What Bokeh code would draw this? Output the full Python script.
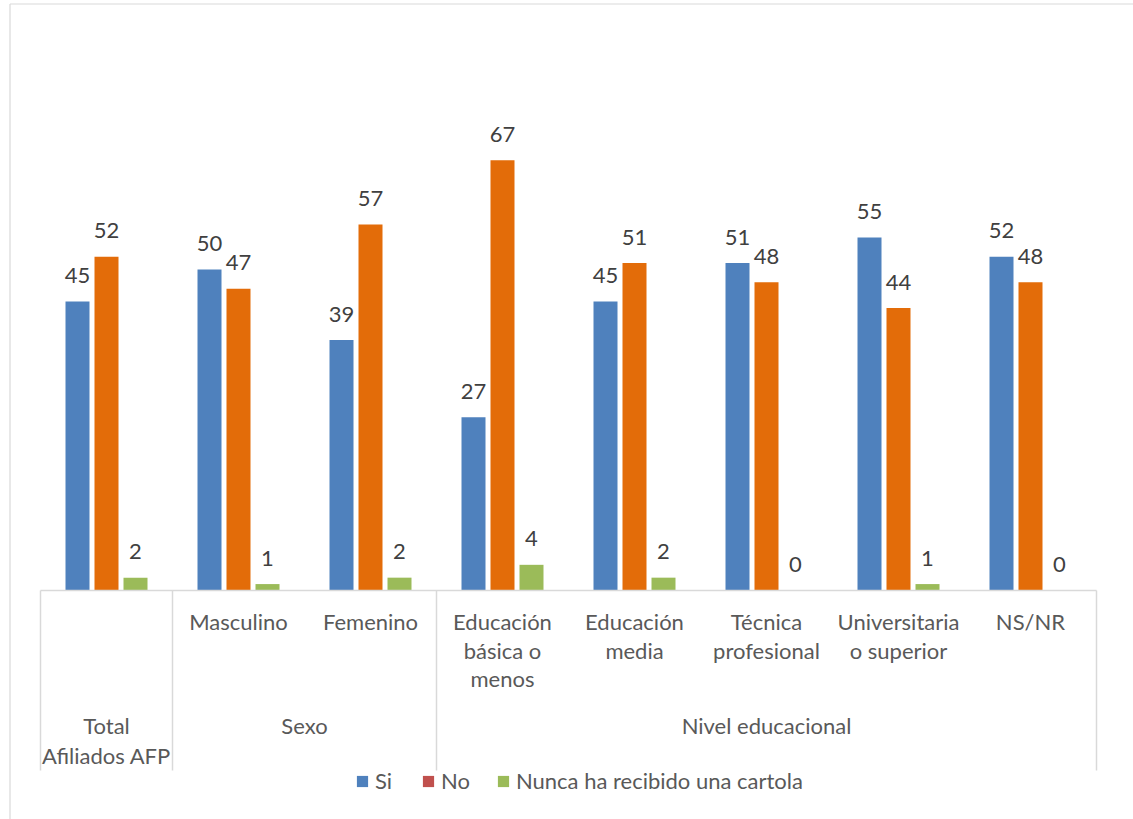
from bokeh.plotting import figure
from bokeh.models import Range1d, ColumnDataSource, Legend, LegendItem
from bokeh.core.properties import value
from bokeh.embed import file_html
from bokeh.resources import INLINE

# ---- data ----
sub_labels = ["", "Masculino", "Femenino", "Educación\nbásica o\nmenos", "Educación\nmedia",
              "Técnica\nprofesional", "Universitaria\no superior", "NS/NR"]
groups = ["Total\nAfiliados AFP", "Sexo", "Nivel educacional"]
group_spans = [(0, 1), (1, 3), (3, 8)]
series_names = ["Si", "No", "Nunca ha recibido una cartola"]
si = [45, 50, 39, 27, 45, 51, 55, 52]
no = [52, 47, 57, 67, 51, 48, 44, 48]
nunca = [2, 1, 2, 4, 2, 0, 1, 0]

# ---- layout helpers (page pixels -> data); figure sits at page (0, 0) ----
W, H = 1133, 819
X0, CAT = 40.0, 132.0          # page x of category 0 start, px per category
BASE, SC = 590.0, 6.42         # page y of baseline, px per unit
def px2x(px): return (px - X0) / CAT
def px2y(py): return (BASE - py) / SC

p = figure(width=W, height=H, output_backend="svg", toolbar_location=None,
           x_range=Range1d(px2x(0), px2x(W)), y_range=Range1d(px2y(H), px2y(0)),
           x_axis_location=None, y_axis_location=None, min_border=0)
p.xgrid.visible = False
p.ygrid.visible = False
p.outline_line_color = None
p.background_fill_color = "white"
p.border_fill_color = "white"

# chart area border (left and top edges visible in the reference)
p.segment(x0=[px2x(9.5), px2x(9.5)], y0=[px2y(3.5), px2y(3.5)],
          x1=[px2x(9.5), px2x(W)], y1=[px2y(H), px2y(3.5)],
          line_color="#D9D9D9", line_width=1.2)

FONT = value("Lato")
colors = ["#4F81BD", "#E36C09", "#9BBB59"]
legend_colors = ["#4F81BD", "#C0504D", "#9BBB59"]
offsets = [-29 / CAT, 0.0, 29 / CAT]
bw = 24 / CAT
n = len(si)
for vals, col, off in zip([si, no, nunca], colors, offsets):
    xs = [i + 0.5 + off for i in range(n)]
    src = ColumnDataSource(dict(x=xs, top=vals, lab=[str(v) for v in vals],
                                ly=[v + 26 / SC for v in vals]))
    p.vbar(x="x", top="top", bottom=0, width=bw, source=src, fill_color=col, line_color=None)
    p.text(x="x", y="ly", text="lab", source=src, text_align="center", text_baseline="middle",
           text_font=FONT, text_font_size="22px", text_color="#404040")

# axis line and dividers
p.segment(x0=[0], y0=[0], x1=[n], y1=[0], line_color="#D9D9D9", line_width=1.5)
divs = sorted(set([a for a, b in group_spans] + [b for a, b in group_spans]))
p.segment(x0=divs, y0=[0] * len(divs), x1=divs, y1=[px2y(770)] * len(divs),
          line_color="#D9D9D9", line_width=1.5)

# category labels
tx, ty, tt = [], [], []
line_y = [621, 650, 678]
for i, lab in enumerate(sub_labels):
    for k, ln in enumerate(lab.split("\n")):
        if ln:
            tx.append(i + 0.5); ty.append(px2y(line_y[k])); tt.append(ln)
gline_y = [725, 755]
for g, (a, b) in zip(groups, group_spans):
    for k, ln in enumerate(g.split("\n")):
        tx.append((a + b) / 2); ty.append(px2y(gline_y[k])); tt.append(ln)
p.text(x=tx, y=ty, text=tt, text_align="center", text_baseline="middle",
       text_font=FONT, text_font_size="22px", text_color="#595959")

# legend (swatches come from proxy bars with no drawable extent, in the reference colours)
dummies = []
for col in legend_colors:
    r = p.vbar(x=[float("nan")], top=[float("nan")], bottom=[float("nan")], width=0.1,
               fill_color=col, line_color=None)
    dummies.append(r)
legend = Legend(items=[LegendItem(label=nm, renderers=[r]) for nm, r in zip(series_names, dummies)],
                orientation="horizontal", location=(355, H - 783 - 11),
                glyph_width=14, glyph_height=14, label_standoff=6, spacing=26,
                padding=0, margin=0, border_line_color=None, background_fill_alpha=0,
                label_text_font="Lato", label_text_font_size="22px", label_text_color="#595959",
                label_height=22)
p.add_layout(legend)

open("out.html", "w").write(file_html(p, INLINE))
